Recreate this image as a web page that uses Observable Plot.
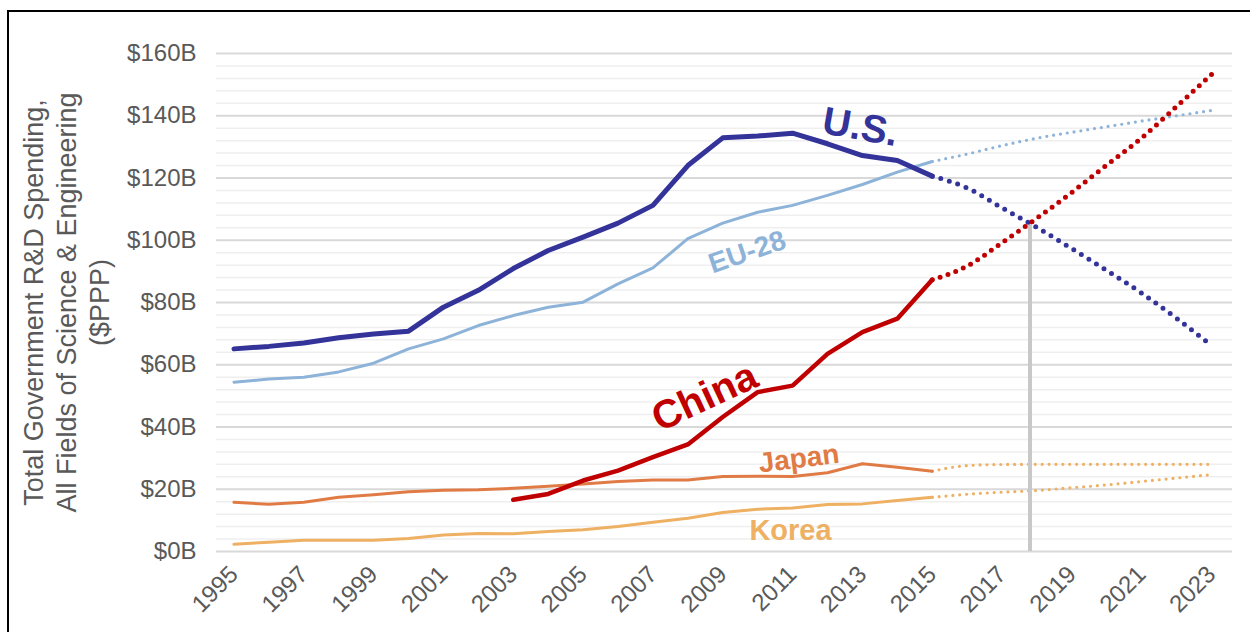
<!DOCTYPE html>
<html><head><meta charset="utf-8">
<script src="https://cdn.jsdelivr.net/npm/d3@7"></script>
<script src="https://cdn.jsdelivr.net/npm/@observablehq/plot@0.6"></script>
<style>
body{margin:0;background:#fff;width:1250px;height:632px;overflow:hidden;position:relative;font-family:"Liberation Sans",Arial,sans-serif}
#frame{position:absolute;left:7px;top:10px;width:1300px;height:700px;border-left:2px solid #000;border-top:2px solid #000;pointer-events:none}
#chart{position:absolute;left:0;top:0}
</style></head><body>
<div id="chart"></div><div id="frame"></div>
<script>
// ---- data ----
const histYears = d3.range(1995, 2016);
const projYears = d3.range(2015, 2024);
const chinaYears = d3.range(2003, 2016);
const us = [65.1, 65.9, 67.0, 68.7, 69.9, 70.8, 78.5, 83.9, 90.9, 96.7, 101.0, 105.5, 111.2, 124.0, 132.9, 133.5, 134.4, 131.0, 127.2, 125.6, 120.6];
const eu = [54.4, 55.4, 56.0, 57.7, 60.5, 65.1, 68.3, 72.6, 75.8, 78.5, 80.1, 86.0, 91.1, 100.5, 105.5, 109.0, 111.2, 114.4, 117.9, 121.9, 125.3];
const japan = [15.8, 15.2, 15.8, 17.4, 18.2, 19.2, 19.7, 19.8, 20.3, 21.0, 21.7, 22.5, 23.0, 23.0, 24.1, 24.2, 24.1, 25.3, 28.2, 27.1, 25.8];
const korea = [2.3, 3.0, 3.6, 3.6, 3.6, 4.2, 5.3, 5.8, 5.7, 6.4, 7.0, 8.0, 9.4, 10.7, 12.5, 13.6, 14.0, 15.1, 15.3, 16.4, 17.4];
const china = [16.6, 18.5, 22.8, 26.0, 30.3, 34.4, 43.2, 51.2, 53.3, 63.5, 70.5, 74.8, 87.3];
const usProj = [120.6, 116.8, 110.4, 104.1, 97.3, 90.3, 83.0, 74.9, 66.2];
const euProj = [125.3, 127.7, 130.4, 132.8, 134.7, 136.5, 138.3, 140.0, 141.7];
const chinaProj = [87.3, 91.7, 99.2, 107.1, 115.4, 124.2, 132.9, 143.0, 153.3];
const japanProj = [25.8, 27.6, 27.95, 28.0, 28.0, 28.0, 28.0, 28.0, 28.0];
const koreaProj = [17.4, 18.4, 19.05, 19.6, 20.5, 21.4, 22.5, 23.6, 24.7];
const crossYear = 2017.8, crossValue = 105.5;
const xTicks = d3.range(1995, 2024, 2);
const yMajor = d3.range(0, 161, 20);
const yMinor = d3.range(4, 160, 4).filter(v => v % 20 !== 0);
const yTitle = "Total Government R&D Spending,\nAll Fields of Science & Engineering\n($PPP)";
const labels = [
  {text: "U.S.", x: 2012.94, y: 136.3, rotate: 10, size: 39, color: "#333399"},
  {text: "EU-28", x: 2009.7, y: 96.2, rotate: -19, size: 28, color: "#8DB3D9"},
  {text: "China", x: 2008.48, y: 49.6, rotate: -25, size: 40, color: "#C00000"},
  {text: "Japan", x: 2011.18, y: 29.8, rotate: -7, size: 28, color: "#E07B45"},
  {text: "Korea", x: 2010.94, y: 6.75, rotate: 0, size: 29, color: "#EEB063"}
];

const toRows = (xs, vs) => xs.map((x, i) => ({x, y: vs[i]}));

const histSeries = [
  {rows: toRows(histYears, eu), color: "#8DB3D9", w: 3},
  {rows: toRows(histYears, japan), color: "#E07B45", w: 3},
  {rows: toRows(histYears, korea), color: "#EEB063", w: 3},
  {rows: toRows(histYears, us), color: "#333399", w: 5},
  {rows: toRows(chinaYears, china), color: "#C00000", w: 4.5}
];
const projLight = [
  {rows: toRows(projYears, euProj), color: "#8DB3D9", w: 3.2, gap: 6.9},
  {rows: toRows(projYears, japanProj), color: "#EEB063", w: 3.2, gap: 6.9},
  {rows: toRows(projYears, koreaProj), color: "#EEB063", w: 3.2, gap: 6.9}
];
const projHeavy = [
  {rows: toRows(projYears, usProj), color: "#333399", w: 5, gap: 8.9},
  {rows: toRows(projYears, chinaProj), color: "#C00000", w: 5, gap: 8.3}
];

const marks = [
  Plot.ruleY(yMinor, {stroke: "#EFEFEF", strokeWidth: 1.5}),
  Plot.ruleY(yMajor, {stroke: "#D9D9D9", strokeWidth: 1.8}),
  Plot.axisY({ticks: yMajor, tickFormat: d => `$${d}B`, tickSize: 0, tickPadding: 20, label: null, fontSize: 24}),
  Plot.axisX({ticks: xTicks, tickFormat: d => String(d), tickRotate: -45, tickSize: 0, tickPadding: 19, label: null, fontSize: 24}),
  Plot.text([yTitle], {text: d => d, frameAnchor: "left", dx: -151, rotate: -90, fontSize: 27, fill: "#595959", lineHeight: 1.22, textAnchor: "middle", lineAnchor: "middle"})
];
for (const s of projLight) marks.push(Plot.line(s.rows, {x: "x", y: "y", stroke: s.color, strokeWidth: s.w, strokeDasharray: `0 ${s.gap}`, strokeLinecap: "round", curve: "monotone-x"}));
for (const s of histSeries) marks.push(Plot.line(s.rows, {x: "x", y: "y", stroke: s.color, strokeWidth: s.w, strokeLinejoin: "round"}));
marks.push(Plot.ruleX([crossYear], {y1: 0, y2: crossValue, stroke: "#C8C8C8", strokeWidth: 4}));
for (const s of projHeavy) marks.push(Plot.line(s.rows, {x: "x", y: "y", stroke: s.color, strokeWidth: s.w, strokeDasharray: `0 ${s.gap}`, strokeLinecap: "round", curve: "monotone-x"}));
for (const l of labels) marks.push(Plot.text([l], {x: "x", y: "y", text: "text", rotate: l.rotate, fontSize: l.size, fontWeight: "bold", fill: l.color, textAnchor: "middle", lineAnchor: "middle"}));

const chart = Plot.plot({
  width: 1250, height: 632,
  marginLeft: 216, marginRight: 18, marginTop: 53, marginBottom: 81,
  x: {domain: [1994.5, 2023.6]},
  y: {domain: [0, 160]},
  style: {fontFamily: "'Liberation Sans', Arial, sans-serif", fontSize: "24px", color: "#595959", background: "#fff", overflow: "visible"},
  marks
});
document.getElementById("chart").appendChild(chart);
</script></body></html>
